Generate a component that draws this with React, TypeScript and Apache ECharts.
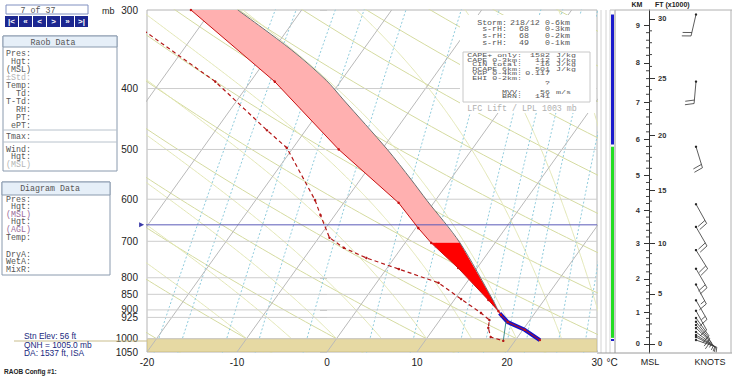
import React, { useEffect, useRef } from "react";
import * as echarts from "echarts";

// ---------------- diagram scales ----------------
const P_TOP = 300;
const P_BOT = 1050;
const SKEW = 21.7; // degC shift per unit of ln(p)

const pressureLabels = [300, 400, 500, 600, 700, 800, 850, 900, 925, 1000, 1050];
const isobars = [400, 500, 600, 700, 800, 850, 900, 925, 1000];
const isotherms = [-110, -100, -90, -80, -70, -60, -50, -40, -30, -20, -10, 0, 10, 20, 30];
const dryAdiabats = [-30, -20, -10, 0, 10, 20, 30, 40, 50, 60, 70, 80, 90, 100, 110, 120];
const moistAdiabats = [-10, -5, 0, 5, 10, 15, 20, 25, 30, 35];
const mixingRatios = [0.8, 1, 1.5, 2, 3, 5, 7, 10, 12, 14, 16, 20, 24];

// ---------------- sounding ----------------
const envP = [300, 390, 500, 608, 667, 704, 772, 868, 904, 917, 941, 968, 1005];
const envT = [-42.3, -27.3, -14.8, -3.9, 0.3, 2.9, 7.9, 13.8, 15.8, 16.4, 17.7, 20.2, 22.7];
const dewP = [300, 326, 390, 466, 497, 602, 636, 691, 717, 744, 775, 815, 865, 910, 934, 961, 994, 1008];
const dewT = [-50.7, -45.4, -33.9, -24.3, -20.7, -13.4, -11.6, -8.8, -6.4, -3.1, 1.4, 6.9, 10.7, 14.0, 15.5, 16.0, 17.0, 18.7];
const parcelP = [300, 347, 388, 417, 500, 559, 602, 704, 868, 904];
const parcelT = [-37.1, -28.0, -21.7, -18.2, -9.4, -4.3, -1.0, 6.1, 14.3, 15.8];
const liftedP = [911, 941, 968, 1005];
const liftedT = [16.1, 17.7, 20.2, 22.7];
const lclMixP = [1008, 941];
const lclMixT = [18.7, 17.5];
const CAPE_SPLIT_P = 704; // 3 km level
const LFC_P = 659;
const GROUND_P = 1000;

// ---------------- height scale ----------------
const kmLabels = [0, 1, 2, 3, 4, 5, 6, 7, 8, 9];
const kmP = [1016, 904, 801, 704, 624, 549, 481, 420, 364, 317];
const ftLabels = [0, 5, 10, 15, 20, 25, 30];
const ftP = [1016, 846, 704, 580, 474, 385, 310];

// ---------------- moisture column ----------------
const barTopP = [305, 495];
const barBotP = [491, 997];
const barColors = ["#1a1acc", "#22dd22"];

// ---------------- winds ----------------
const windP = [305, 390, 495, 611, 664, 723, 774, 820, 869, 903, 927, 940, 951, 962, 976, 987, 994, 1005];
const windDir = [193, 185, 163, 151, 150, 148, 150, 152, 150, 151, 144, 141, 138, 133, 127, 121, 117, 109];
const windKt = [20, 20, 20, 20, 20, 20, 20, 15, 15, 10, 10, 10, 10, 5, 5, 5, 5, 5];

// ---------------- text panels ----------------
const raobRows = ["Pres:", "Hgt:", "(MSL)", "\u00b1Std:", "Temp:", "Td:", "T-Td:", "RH:", "PT:", "ePT:"];
const windRows = ["Wind:", "Hgt:", "(MSL)"];
const diagRows = ["Pres:", "Hgt:", "(MSL)", "Hgt:", "(AGL)", "Temp:"];
const diagRows2 = ["DryA:", "WetA:", "MixR:"];
const stormLabels = ["Storm:", "s-rH:", "s-rH:", "s-rH:"];
const stormValues = ["218/12", "68", "68", "49"];
const stormUnits = ["0-6km", "0-3km", "0-2km", "0-1km"];
const capeLabels = ["CAPE+ only:", "CAPE 0-3km:", "CIN total:", "DCAPE 6km:", "VGP 0-4km:", "EHI 0-2km:", "", "", "MVV:", "BRN:"];
const capeValues = ["1582", "112", "-16", "501", "0.117", "", "?", "", "56", "141"];
const capeUnits = ["J/kg", "J/kg", "J/kg", "J/kg", "", "", "", "", "m/s", ""];
const stationLines = ["Stn Elev: 56 ft", "QNH = 1005.0 mb", "DA: 1537 ft, ISA"];

const MONO = '"Liberation Mono", "DejaVu Sans Mono", monospace';
const SANS = '"Liberation Sans", Arial, sans-serif';

const lnp = (p: number) => Math.log(p);
const skewX = (T: number, p: number) => T + SKEW * Math.log(P_BOT / p);
const pt = (T: number, p: number) => [skewX(T, p), lnp(p)];

function satVap(Tc: number) {
  return 6.112 * Math.exp((17.67 * Tc) / (Tc + 243.5));
}
function moistLapse(Tk: number, p: number) {
  const es = satVap(Tk - 273.15);
  const rs = (0.622 * es) / (p - es);
  const Lv = 2.501e6;
  const num = 287.04 * Tk + Lv * rs;
  const den = 1005.7 + (Lv * Lv * rs * 0.622) / (287.04 * Tk * Tk);
  return num / den;
}
function moistLine(t1000: number) {
  const step = 0.004;
  const up: number[][] = [];
  let T = t1000 + 273.15;
  for (let l = Math.log(1000); l >= Math.log(290); l -= step) {
    up.push(pt(T - 273.15, Math.exp(l)));
    T -= moistLapse(T, Math.exp(l)) * step;
  }
  const down: number[][] = [];
  T = t1000 + 273.15;
  for (let l = Math.log(1000); l <= Math.log(1070); l += step) {
    down.push(pt(T - 273.15, Math.exp(l)));
    T += moistLapse(T, Math.exp(l)) * step;
  }
  return down.reverse().concat(up);
}
function dryLine(theta: number) {
  const out: number[][] = [];
  for (let p = 1070; p >= 290; p -= 10) {
    out.push(pt((theta + 273.15) * Math.pow(p / 1000, 0.2857) - 273.15, p));
  }
  return out;
}
function mixLine(w: number) {
  const out: number[][] = [];
  for (let p = 1070; p >= 290; p -= 20) {
    const e = ((w / 1000) * p) / (0.622 + w / 1000);
    const a = Math.log(e / 6.112);
    out.push(pt((243.5 * a) / (17.67 - a), p));
  }
  return out;
}
// minor tick positions between labelled height levels (in ln p)
function minorTicks(labels: number[], ps: number[], step: number) {
  const out: number[] = [];
  for (let i = 0; i < labels.length - 1; i++) {
    const a = lnp(ps[i]);
    const b = lnp(ps[i + 1]);
    const n = Math.round((labels[i + 1] - labels[i]) / step);
    for (let k = 1; k < n; k++) out.push(a + ((b - a) * k) / n);
  }
  return out;
}

function txt(text: string, x: number, y: number, o: any = {}) {
  return {
    type: "text",
    x,
    y,
    z: 100,
    scaleY: o.scaleY ?? 1,
    style: {
      text,
      fill: o.fill ?? "#555",
      font: o.font ?? `8.3px ${MONO}`,
      textAlign: o.align ?? "left",
      textVerticalAlign: "middle",
    },
  };
}
function rect(x: number, y: number, w: number, h: number, fill: string, stroke?: string, z = 90) {
  return {
    type: "rect",
    z,
    shape: { x, y, width: w, height: h },
    style: { fill, stroke: stroke ?? "none", lineWidth: 1 },
  };
}
function hline(x1: number, x2: number, y: number, stroke: string, z = 95) {
  return { type: "line", z, shape: { x1, y1: y, x2, y2: y }, style: { stroke, lineWidth: 1 } };
}
function vline(x: number, y1: number, y2: number, stroke: string, z = 95) {
  return { type: "line", z, shape: { x1: x, y1, x2: x, y2 }, style: { stroke, lineWidth: 1 } };
}

export default function App() {
  const ref = useRef<HTMLDivElement>(null);
  useEffect(() => {
    document.body.style.margin = "0";
    const chart = echarts.init(ref.current!, undefined, { renderer: "svg" });
    const yMin = lnp(P_TOP);
    const yMax = lnp(P_BOT);
    const series: any[] = [];
    const bg = (data: number[][], color: string, type: any = "solid", z = 1) => ({
      type: "line",
      xAxisIndex: 0,
      yAxisIndex: 0,
      data,
      showSymbol: false,
      symbol: "none",
      silent: true,
      clip: true,
      z,
      lineStyle: { color, width: 1, type },
    });
    dryAdiabats.forEach((t) => series.push(bg(dryLine(t), "#d5dba0")));
    moistAdiabats.forEach((t) => series.push(bg(moistLine(t), "#e2e6b4")));
    mixingRatios.forEach((w) => series.push(bg(mixLine(w), "#8fcbdc", [2, 2])));
    // ground
    series.push({
      type: "custom",
      xAxisIndex: 0,
      yAxisIndex: 0,
      z: 2,
      clip: true,
      data: [[0, lnp(GROUND_P)]],
      renderItem: (_p: any, api: any) => ({
        type: "polygon",
        shape: {
          points: [
            api.coord([-20, lnp(GROUND_P)]),
            api.coord([30, lnp(GROUND_P)]),
            api.coord([30, lnp(P_BOT)]),
            api.coord([-20, lnp(P_BOT)]),
          ],
        },
        style: { fill: "#e6d9a3", stroke: "#cbbd84", lineWidth: 1 },
      }),
    });
    isotherms.forEach((t) => series.push(bg([pt(t, P_BOT), pt(t, P_TOP)], "#b9b9b9", "solid", 3)));
    isobars.forEach((p) => series.push(bg([[-20, lnp(p)], [30, lnp(p)]], "#cdcdcd", "solid", 3)));

    // CAPE areas
    const capePoly = (lowP: number, highP: number, fill: string) => ({
      type: "custom",
      xAxisIndex: 0,
      yAxisIndex: 0,
      z: 5,
      clip: true,
      data: [[0, lnp(500)]],
      renderItem: (_p: any, api: any) => {
        const pts: number[][] = [];
        envP.forEach((p, i) => {
          if (p >= lowP && p <= highP) pts.push(api.coord(pt(envT[i], p)));
        });
        const right: number[][] = [];
        parcelP.forEach((p, i) => {
          if (p >= lowP && p <= highP) right.push(api.coord(pt(parcelT[i], p)));
        });
        return { type: "polygon", shape: { points: pts.concat(right.reverse()) }, style: { fill } };
      },
    });
    series.push(capePoly(P_TOP, CAPE_SPLIT_P, "#ffb0b0"));
    series.push(capePoly(CAPE_SPLIT_P, 904, "#ff0000"));

    // parcel line
    series.push({
      type: "line",
      data: parcelP.map((p, i) => pt(parcelT[i], p)),
      symbol: "none",
      smooth: 0.3,
      clip: true,
      z: 8,
      lineStyle: { color: "#6e6e6e", width: 1 },
    });
    // lifted surface parcel
    series.push({
      type: "line",
      data: liftedP.map((p, i) => pt(liftedT[i], p)),
      symbol: "none",
      z: 8,
      lineStyle: { color: "#1414c8", width: 4 },
    });
    series.push({
      type: "line",
      data: lclMixP.map((p, i) => pt(lclMixT[i], p)),
      symbol: "none",
      z: 8,
      lineStyle: { color: "#3d8f8f", width: 1 },
    });
    // temperature
    series.push({
      type: "line",
      data: envP.map((p, i) => pt(envT[i], p)),
      symbol: "circle",
      symbolSize: 2.5,
      clip: true,
      z: 10,
      itemStyle: { color: "#c81010" },
      lineStyle: { color: "#c81010", width: 1 },
    });
    // dewpoint
    series.push({
      type: "line",
      data: dewP.map((p, i) => pt(dewT[i], p)),
      symbol: "circle",
      symbolSize: 2.5,
      clip: true,
      z: 10,
      itemStyle: { color: "#b41818" },
      lineStyle: { color: "#b41818", width: 1.2, type: [4, 3] },
    });
    // LFC line
    series.push({
      type: "line",
      clip: false,
      z: 9,
      data: [
        { value: [-20.6, lnp(LFC_P)], symbol: "triangle", symbolSize: 5, symbolRotate: -90 },
        { value: [30, lnp(LFC_P)], symbol: "none" },
      ],
      itemStyle: { color: "#3a3aa8" },
      lineStyle: { color: "#5a5ab8", width: 1 },
    });

    // height-axis minor ticks
    const kmMinor = minorTicks(kmLabels, kmP, 0.2);
    const ftMinor = minorTicks(ftLabels, ftP, 1);
    series.push({
      type: "custom",
      xAxisIndex: 1,
      yAxisIndex: 1,
      z: 5,
      data: kmMinor.map((v) => [0, v, -1]).concat(ftMinor.map((v) => [0, v, 1])),
      renderItem: (_p: any, api: any) => {
        const c = api.coord([0, api.value(1)]);
        const s = api.value(2);
        return {
          type: "line",
          shape: { x1: c[0], y1: c[1], x2: c[0] + s * 3, y2: c[1] },
          style: { stroke: "#444", lineWidth: 1 },
        };
      },
    });
    // moisture column
    series.push({
      type: "custom",
      xAxisIndex: 2,
      yAxisIndex: 3,
      z: 5,
      data: barTopP.map((p, i) => [lnp(p), lnp(barBotP[i]), i]),
      encode: { y: [0, 1] },
      renderItem: (_p: any, api: any) => {
        const a = api.coord([0, api.value(0)]);
        const b = api.coord([1, api.value(1)]);
        return {
          type: "rect",
          shape: { x: a[0], y: a[1], width: b[0] - a[0], height: b[1] - a[1] },
          style: { fill: barColors[api.value(2)] },
        };
      },
    });
    // wind barbs
    series.push({
      type: "custom",
      xAxisIndex: 3,
      yAxisIndex: 4,
      z: 5,
      clip: false,
      data: windP.map((p, i) => [0, lnp(p), windDir[i], windKt[i]]),
      encode: { x: 0, y: 1 },
      renderItem: (_p: any, api: any) => {
        const c = api.coord([0, api.value(1)]);
        const d = (api.value(2) * Math.PI) / 180;
        const spd = api.value(3);
        const ux = Math.sin(d);
        const uy = -Math.cos(d);
        const L = 22;
        const tx = c[0] + ux * L;
        const ty = c[1] + uy * L;
        const nx = -uy;
        const ny = ux;
        const children: any[] = [
          { type: "circle", shape: { cx: c[0], cy: c[1], r: 1.2 }, style: { fill: "#222" } },
          { type: "line", shape: { x1: c[0], y1: c[1], x2: tx, y2: ty }, style: { stroke: "#333", lineWidth: 0.8 } },
        ];
        let s = spd;
        let k = 0;
        while (s >= 10) {
          const bx = tx - ux * k * 3.5;
          const by = ty - uy * k * 3.5;
          children.push({
            type: "line",
            shape: { x1: bx, y1: by, x2: bx + nx * 9 + ux * 2, y2: by + ny * 9 + uy * 2 },
            style: { stroke: "#333", lineWidth: 0.8 },
          });
          s -= 10;
          k++;
        }
        if (s >= 5) {
          const bx = tx - ux * k * 3.5;
          const by = ty - uy * k * 3.5;
          children.push({
            type: "line",
            shape: { x1: bx, y1: by, x2: bx + nx * 5 + ux * 1, y2: by + ny * 5 + uy * 1 },
            style: { stroke: "#333", lineWidth: 0.8 },
          });
        }
        return { type: "group", children };
      },
    });

    const kmLn = kmP.map(lnp);
    const ftLn = ftP.map(lnp);
    const nearest = (arr: number[], v: number) => {
      let bi = 0;
      arr.forEach((a, i) => {
        if (Math.abs(a - v) < Math.abs(arr[bi] - v)) bi = i;
      });
      return bi;
    };
    const hiddenY = (gridIndex: number) => ({ gridIndex, type: "value", inverse: true, min: yMin, max: yMax, show: false });
    const hiddenX = (gridIndex: number) => ({ gridIndex, type: "value", min: 0, max: 1, show: false });

    // ---------- graphics ----------
    const g: any[] = [];
    // top-left navigator
    g.push(rect(6, 5, 82, 9, "#fff", "#8090c0"));
    g.push(txt("7 of 37", 38, 10, { align: "center", fill: "#555" }));
    const navLabels = ["|<", "\u00ab", "<", ">", "\u00bb", ">|"];
    navLabels.forEach((s, i) => {
      const x = 5 + i * 14;
      g.push(rect(x, 16, 13, 11, "#1c2790"));
      g.push(txt(s, x + 6.5, 21.5, { align: "center", fill: "#fff", font: `bold 8px ${SANS}` }));
    });
    g.push(txt("mb", 102, 11, { font: `9px ${SANS}`, fill: "#222" }));
    // Raob data box
    g.push(rect(3, 36, 114, 135, "#fff", "#8a9aae"));
    g.push(rect(3, 36, 114, 11, "#e6eff8", "#8a9aae"));
    g.push(txt("Raob Data", 53, 42, { align: "center" }));
    raobRows.forEach((s, i) =>
      g.push(txt(s, 31, 53 + i * 8, { align: "right", fill: s.startsWith("\u00b1") ? "#b5b5b5" : "#555" }))
    );
    g.push(hline(3, 117, 130, "#b8c2cc"));
    g.push(txt("Tmax:", 31, 136, { align: "right" }));
    g.push(hline(3, 117, 142, "#b8c2cc"));
    windRows.forEach((s, i) => g.push(txt(s, 31, 149 + i * 7.5, { align: "right", fill: i === 2 ? "#b5b5b5" : "#555" })));
    // Diagram data box
    g.push(rect(2, 182, 108, 93, "#fff", "#8a9aae"));
    g.push(rect(2, 182, 108, 13, "#e6eff8", "#8a9aae"));
    g.push(txt("Diagram Data", 50, 188.5, { align: "center" }));
    diagRows.forEach((s, i) =>
      g.push(txt(s, 31, 199 + i * 7.6, { align: "right", fill: s.startsWith("(") ? "#9a6a9a" : "#555" }))
    );
    diagRows2.forEach((s, i) => g.push(txt(s, 31, 254 + i * 7.6, { align: "right" })));
    // station info
    stationLines.forEach((s, i) => g.push(txt(s, 24, 336 + i * 8.6, { font: `8.4px ${SANS}`, fill: "#1a2a80" })));
    g.push(hline(14, 147, 341, "#c9bd8c", 1));
    g.push(txt("RAOB Config #1:", 4, 371, { font: `bold 6.5px ${SANS}`, fill: "#222" }));
    // storm / indices box
    g.push(rect(460, 15, 136, 98, "#fff", "none", 90));
    g.push(rect(463, 52, 127, 50, "#fff", "#c8c8c8", 91));
    stormLabels.forEach((s, i) => {
      const y = 23 + i * 6.7;
      g.push(txt(s, 507, y, { align: "right", scaleY: 0.8 }));
      if (i === 0) g.push(txt(stormValues[i], 510, y, { scaleY: 0.8 }));
      else g.push(txt(stormValues[i], 529, y, { align: "right", scaleY: 0.8 }));
      g.push(txt(stormUnits[i], 545, y, { scaleY: 0.8 }));
    });
    capeLabels.forEach((s, i) => {
      const y = 55.5 + i * 4.6;
      if (s) g.push(txt(s, 522, y, { align: "right", scaleY: 0.62 }));
      if (capeValues[i]) g.push(txt(capeValues[i], 550, y, { align: "right", scaleY: 0.62 }));
      if (capeUnits[i]) g.push(txt(capeUnits[i], 556, y, { scaleY: 0.62 }));
    });
    g.push(txt("LFC Lift / LPL 1003 mb", 522, 108, { align: "center", fill: "#b0b0b0" }));
    // right panel frame
    [601, 606, 610].forEach((x) => g.push(vline(x, 10, 353, "#d2d2d2", 1)));
    g.push(vline(615, 10, 353, "#9a9a9a", 1));
    g.push(hline(610, 615, 10, "#bbbbbb", 1));
    g.push(hline(615, 732, 10, "#b0b0b0", 1));
    g.push(hline(597, 732, 353, "#9a9a9a", 1));
    g.push(vline(731, 10, 353, "#b0b0b0", 1));
    g.push(rect(611, 339, 3, 2, "#1a1acc", "none", 20));
    g.push(txt("\u00b0C", 612, 362, { align: "center", font: `10px ${SANS}`, fill: "#222" }));
    g.push(txt("KM", 637, 4, { align: "center", font: `bold 7px ${SANS}`, fill: "#222" }));
    g.push(txt("FT (x1000)", 655, 4, { font: `bold 7px ${SANS}`, fill: "#222" }));
    g.push(txt("MSL", 650, 362, { align: "center", font: `9px ${SANS}`, fill: "#222" }));
    g.push(txt("KNOTS", 710, 362, { align: "center", font: `9px ${SANS}`, fill: "#222" }));

    chart.setOption({
      animation: false,
      backgroundColor: "#ffffff",
      textStyle: { fontFamily: SANS },
      grid: [
        { left: 147, top: 10, width: 450, height: 342, show: true, borderColor: "#b4b4b4", borderWidth: 1, backgroundColor: "#fff", outerBoundsMode: "none" },
        { left: 649, top: 10, width: 1, height: 343, outerBoundsMode: "none" },
        { left: 611, top: 10, width: 3, height: 342, outerBoundsMode: "none" },
        { left: 696, top: 10, width: 20, height: 342, outerBoundsMode: "none" },
      ],
      xAxis: [
        {
          gridIndex: 0,
          type: "value",
          min: -20,
          max: 30,
          interval: 10,
          axisLine: { show: false },
          axisTick: { show: false },
          splitLine: { show: false },
          axisLabel: { fontSize: 10, color: "#222", margin: 5, fontFamily: SANS },
        },
        hiddenX(1),
        hiddenX(2),
        hiddenX(3),
      ],
      yAxis: [
        {
          gridIndex: 0,
          type: "value",
          inverse: true,
          min: yMin,
          max: yMax,
          axisLine: { show: false },
          splitLine: { show: false },
          axisTick: { show: true, customValues: pressureLabels.map(lnp), length: 7, lineStyle: { color: "#c8c8c8" } },
          axisLabel: {
            customValues: pressureLabels.map(lnp),
            formatter: (v: number) => String(Math.round(Math.exp(v))),
            fontSize: 10,
            color: "#222",
            margin: 9,
            fontFamily: SANS,
          },
        },
        {
          gridIndex: 1,
          type: "value",
          position: "left",
          inverse: true,
          min: yMin,
          max: yMax,
          axisLine: { show: true, onZero: false, lineStyle: { color: "#333", width: 1 } },
          splitLine: { show: false },
          axisTick: { show: true, customValues: kmLn, length: 5, lineStyle: { color: "#333" } },
          axisLabel: {
            customValues: kmLn,
            formatter: (v: number) => String(kmLabels[nearest(kmLn, v)]),
            fontSize: 7.5,
            fontWeight: "bold",
            color: "#333",
            margin: 9,
            fontFamily: SANS,
          },
        },
        {
          gridIndex: 1,
          type: "value",
          position: "right",
          inverse: true,
          min: yMin,
          max: yMax,
          axisLine: { show: false },
          splitLine: { show: false },
          axisTick: { show: true, customValues: ftLn, length: 6, lineStyle: { color: "#333" } },
          axisLabel: {
            customValues: ftLn,
            formatter: (v: number) => String(ftLabels[nearest(ftLn, v)]),
            fontSize: 7.5,
            fontWeight: "bold",
            color: "#333",
            margin: 8,
            fontFamily: SANS,
          },
        },
        hiddenY(2),
        hiddenY(3),
      ],
      series,
      graphic: { elements: g },
    });
    return () => chart.dispose();
  }, []);
  return <div ref={ref} style={{ position: "fixed", left: 0, top: 0, width: 732, height: 377 }} />;
}
